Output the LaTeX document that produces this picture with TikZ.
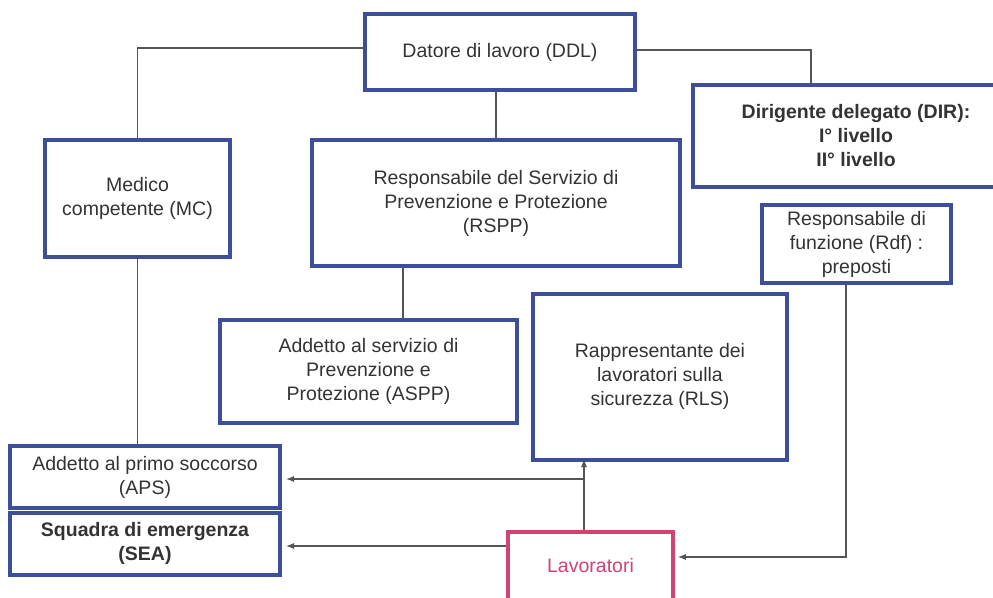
\documentclass[tikz,border=0pt]{standalone}
\usepackage{fontspec}
\setmainfont{Liberation Sans}
\usetikzlibrary{arrows.meta,calc}
\definecolor{boxblue}{HTML}{3D4F99}
\definecolor{lavpink}{HTML}{D2436F}
\definecolor{txtgray}{HTML}{333333}
\definecolor{linegray}{HTML}{555555}
\newcommand{\lift}[2]{\raisebox{#1}{\begin{tabular}{@{}c@{}}#2\end{tabular}}}
\begin{document}
\begin{tikzpicture}[x=1pt,y=-1pt,
  every node/.style={font=\fontsize{19.5}{24}\selectfont, text=txtgray, align=center, inner sep=0pt},
  bluebox/.style={draw=boxblue, line width=4pt, fill=white},
  pinkbox/.style={draw=lavpink, line width=3.5pt, fill=white, text=lavpink},
  conn/.style={draw=linegray, line width=1.1pt},
  arr/.style={conn, -{Latex[length=8pt,width=6pt]}}
]
\useasboundingbox (0,0) rectangle (993,597);
\fill[white] (0,0) rectangle (993,597);

\node[bluebox, minimum width=270pt, minimum height=76pt] (ddl) at (500,52) {\raisebox{4pt}{Datore di lavoro (DDL)}};
\node[bluebox, minimum width=185pt, minimum height=117pt] (mc) at (137.5,198.5) {\lift{6pt}{Medico\\competente (MC)}};
\node[bluebox, minimum width=368pt, minimum height=126pt] (rspp) at (496,203) {Responsabile del Servizio di\\Prevenzione e Protezione\\(RSPP)};
\node[bluebox, minimum width=326pt, minimum height=102pt] (dir) at (856,136) {\bfseries Dirigente delegato (DIR):\\\bfseries I° livello\\\bfseries II° livello};
\node[bluebox, minimum width=189pt, minimum height=78pt] (rdf) at (856.5,244) {Responsabile di\\funzione (Rdf) :\\preposti};
\node[bluebox, minimum width=297pt, minimum height=103pt] (aspp) at (368.5,371.5) {\lift{4pt}{Addetto al servizio di\\Prevenzione e\\Protezione (ASPP)}};
\node[bluebox, minimum width=254pt, minimum height=166pt] (rls) at (660,377) {\lift{4pt}{Rappresentante dei\\lavoratori sulla\\sicurezza (RLS)}};
\node[bluebox, minimum width=270pt, minimum height=62pt] (aps) at (145,477) {Addetto al primo soccorso\\(APS)};
\node[bluebox, minimum width=270pt, minimum height=62pt] (sea) at (145,544) {\lift{3pt}{\bfseries Squadra di emergenza\\\bfseries (SEA)}};
\node[pinkbox, minimum width=165pt, minimum height=73pt] (lav) at (590.5,568.5) {\raisebox{6pt}{Lavoratori}};

% connectors
\draw[conn] (ddl.west |- 0,48) -| (mc.north);
\draw[conn] (ddl.south -| rspp.north) -- (rspp.north);
\coordinate (dirin) at (811,0 |- dir.north);
\draw[conn] (ddl.east |- 0,50) -| (dirin);
\draw[conn] (mc.south) -- (mc.south |- aps.north);
\coordinate (rsppout) at (403,0 |- rspp.south);
\draw[conn] (rsppout) -- (rsppout |- aspp.north);
\coordinate (rdfout) at (846,0 |- rdf.south);
\draw[arr] (rdfout) |- ([xshift=3pt]lav.east |- 0,557);
\coordinate (lavtop) at (584,0 |- lav.north);
\draw[arr] (lavtop) -- ([yshift=3pt]lavtop |- rls.south);
\coordinate (split) at (584,479);
\draw[arr] (split) -- ([xshift=4pt]aps.east |- split);
\draw[arr] (lav.west |- 0,546) -- ([xshift=4pt]sea.east |- 0,546);
\end{tikzpicture}
\end{document}
